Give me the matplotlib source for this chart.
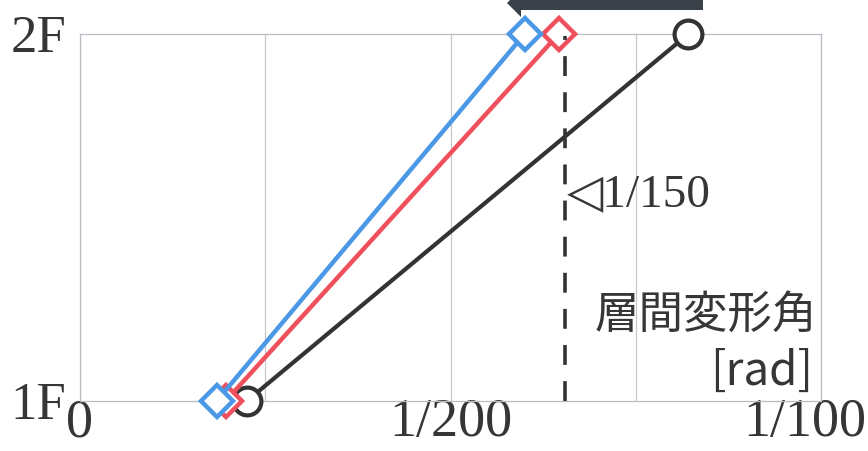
import numpy as np
import matplotlib
matplotlib.use("Agg")
import matplotlib.pyplot as plt
from matplotlib.patches import Polygon
import matplotlib.transforms as mtransforms

# data
floors = [1, 2]
floor_labels = ["1F", "2F"]
drift_black = [0.00226, 0.00821]
drift_red = [0.00197, 0.00646]
drift_blue = [0.00185, 0.00600]
limit_line = 0.00655          # where the dashed 1/150 line sits
x_ticks = [0, 0.005, 0.01]
x_ticklabels = ["0", "1/200", "1/100"]

W, H = 868, 451
fig = plt.figure(figsize=(W / 100, H / 100), dpi=100)
ax = fig.add_axes([80 / W, 1 - 400.5 / H, 741 / W, 366.5 / H])

serif = ["Liberation Serif", "DejaVu Serif"]
txt = "#363636"

ax.set_xlim(0, 0.01)
ax.set_ylim(1, 2)
for s in ax.spines.values():
    s.set_color("#b8bcc4")
    s.set_linewidth(0.9)

ax.plot(drift_black, floors, color="#333333", lw=3.0, marker="o", ms=20,
        mfc="white", mec="#333333", mew=3.0, clip_on=False, zorder=3)
ax.plot(drift_red, floors, color="#f0505c", lw=3.2, marker="D", ms=16,
        mfc="white", mec="#f0505c", mew=3.2, clip_on=False, zorder=4)
ax.plot(drift_blue, floors, color="#4a98e6", lw=3.2, marker="D", ms=16,
        mfc="white", mec="#4a98e6", mew=3.2, clip_on=False, zorder=5)

ax.plot([limit_line, limit_line], [1, 1.995], color="#333333", lw=2.6,
        dashes=(5.5, 4.5), zorder=6, clip_on=False)

# ticks
ax.tick_params(length=0)
ax.set_yticks(floors)
ax.set_yticklabels(floor_labels, fontsize=38, family=serif, color=txt)
ax.tick_params(axis="y", pad=10)
ax.set_xticks(x_ticks)
ax.set_xticklabels(x_ticklabels, fontsize=39, family=serif, color=txt)
ax.tick_params(axis="x", pad=-2)
labs = ax.get_xticklabels()
labs[-1].set_transform(labs[-1].get_transform() +
                       mtransforms.ScaledTranslation(-0.16, 0, fig.dpi_scale_trans))
ax.set_xticks([0.0025, 0.0075], minor=True)
ax.grid(axis="x", which="both", color="#c8c8cc", lw=0.9)
ax.tick_params(which="minor", length=0)

# annotations
ax.text(limit_line + 0.00002, 1.56, "\u25c11/150", fontsize=34,
        family=["Liberation Serif", "DejaVu Sans"], color=txt,
        ha="left", va="center")
ax.text(0.00995, 1.235, "層間変形角", fontsize=32, family="Noto Sans CJK JP",
        color=txt, ha="right", va="center")
ax.text(0.00989, 1.08, "[rad]", fontsize=33, family="Noto Sans CJK JP",
        color=txt, ha="right", va="center")

# cropped arrow at the top of the picture
arrow_px = [(507, 3), (521, -11), (521, -4), (703, -4), (703, 10),
            (521, 10), (521, 17)]
arrow = Polygon([(x / W, 1 - y / H) for x, y in arrow_px], closed=True,
                transform=fig.transFigure, facecolor="#3b4148",
                edgecolor="none", clip_on=False)
fig.patches.append(arrow)

fig.savefig("out.png", dpi=100)
